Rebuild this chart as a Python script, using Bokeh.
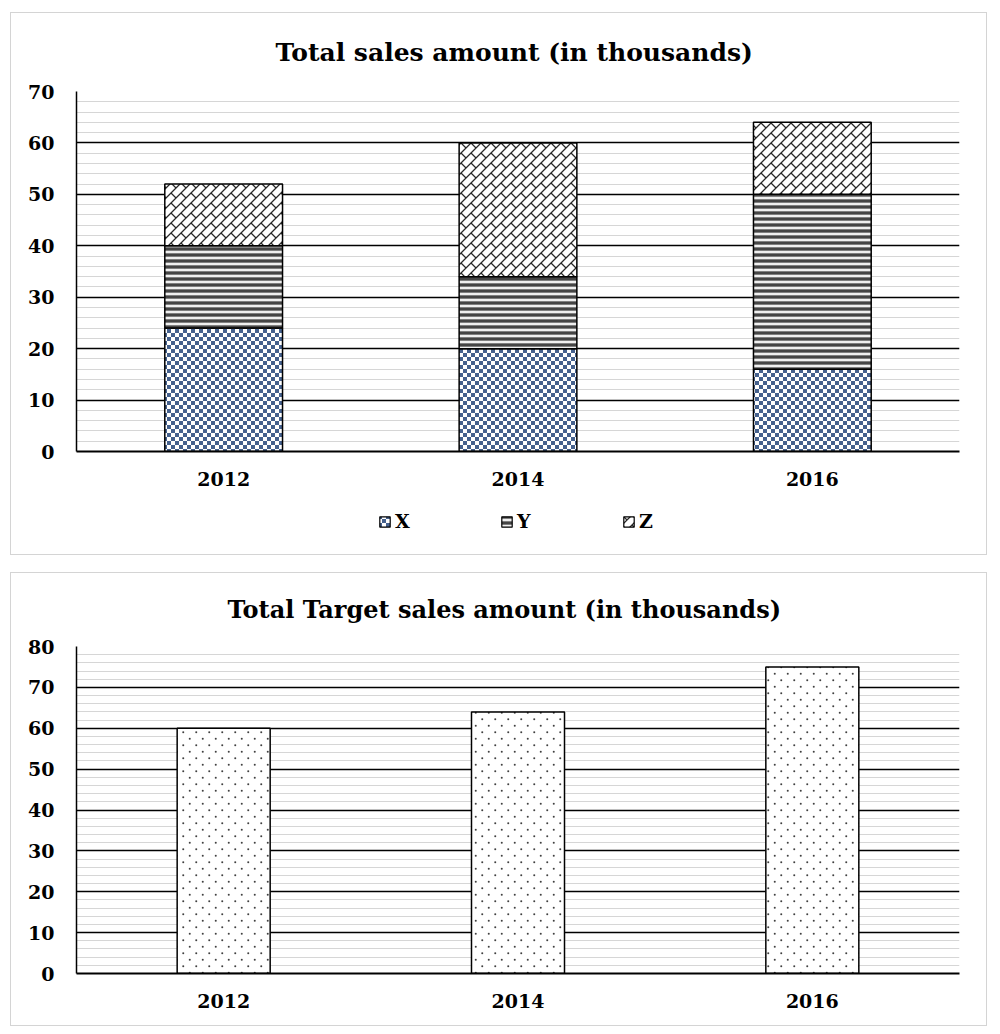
import base64, struct, zlib
import numpy as np
from bokeh.plotting import figure
from bokeh.models import (ColumnDataSource, FactorRange, Range1d, SingleIntervalTicker,
                          Legend, LegendItem, ImageURLTexture)
from bokeh.core.properties import value
from bokeh.layouts import column
from bokeh.embed import file_html
from bokeh.resources import INLINE

# ---------------- data ----------------
years = ["2012", "2014", "2016"]
sales_x = [24, 20, 16]
sales_y = [16, 14, 34]
sales_z = [12, 26, 14]
target = [60, 64, 75]
series_names = ["X", "Y", "Z"]
title_top = "Total sales amount (in thousands)"
title_bottom = "Total Target sales amount (in thousands)"

FONT = "DejaVu Serif"

# ---------------- pattern textures (PNG tiles) ----------------
def png_uri(img):
    img = np.clip(img, 0, 255).astype(np.uint8)
    h, w, _ = img.shape
    raw = b"".join(b"\x00" + img[r].tobytes() for r in range(h))
    def chunk(t, d):
        return struct.pack(">I", len(d)) + t + d + struct.pack(">I", zlib.crc32(t + d) & 0xffffffff)
    png = (b"\x89PNG\r\n\x1a\n" + chunk(b"IHDR", struct.pack(">IIBBBBB", w, h, 8, 2, 0, 0, 0))
           + chunk(b"IDAT", zlib.compress(raw)) + chunk(b"IEND", b""))
    return "data:image/png;base64," + base64.b64encode(png).decode()

def blend(cov, fg, bg=(255, 255, 255)):
    fg = np.array(fg, float); bg = np.array(bg, float)
    return bg[None, None, :] * (1 - cov[..., None]) + fg[None, None, :] * cov[..., None]

def checker_tile(s=4):
    n = 2 * s
    idx = np.arange(n) // s
    cov = ((idx[:, None] + idx[None, :]) % 2 == 0).astype(float)
    return blend(cov, (0x45, 0x61, 0x8e))

def hline_tile():
    vals = [0x80, 0x45, 0x45, 0x80, 0xf0, 0xf0]
    img = np.zeros((len(vals), 6, 3))
    for i, v in enumerate(vals):
        img[i, :, :] = v
    return img

def brick_tile(T=10, w=1.4, ss=6):
    n = T * ss
    c = (np.arange(n) + 0.5) / ss
    X, Y = np.meshgrid(c, c)
    u = X + Y
    v = X - Y
    um = u % T
    du = np.minimum(um, T - um) / np.sqrt(2)
    k = np.floor(u / T)
    vv = (v - k * T) % (2 * T)
    dv = np.minimum(vv, 2 * T - vv) / np.sqrt(2)
    ink = ((du < w / 2) | (dv < w / 2)).astype(float)
    cov = ink.reshape(T, ss, T, ss).mean(axis=(1, 3))
    return blend(cov, (0x28, 0x28, 0x28))

def dot_tile(W=13, r=1.0, ss=6):
    n = W * ss
    c = (np.arange(n) + 0.5) / ss
    X, Y = np.meshgrid(c, c)
    ink = np.zeros_like(X, dtype=bool)
    for (cx, cy) in [(W * 0.25, W * 0.25), (W * 0.75, W * 0.75)]:
        for ox in (-W, 0, W):
            for oy in (-W, 0, W):
                ink |= (X - cx - ox) ** 2 + (Y - cy - oy) ** 2 < r * r
    cov = ink.astype(float).reshape(W, ss, W, ss).mean(axis=(1, 3))
    return blend(cov, (0x40, 0x40, 0x40))

tex_checker = ImageURLTexture(url=png_uri(checker_tile()))
tex_hline = ImageURLTexture(url=png_uri(hline_tile()))
tex_brick = ImageURLTexture(url=png_uri(brick_tile()))
tex_dots = ImageURLTexture(url=png_uri(dot_tile()))

# ---------------- figure factory ----------------
def make_fig(title, ymax, fw, fh, mtop, mbottom, mleft, mright,
             title_size, title_offset, title_standoff):
    p = figure(x_range=FactorRange(factors=years, range_padding=0),
               y_range=Range1d(0, ymax),
               frame_width=fw, frame_height=fh,
               min_border_top=mtop, min_border_bottom=mbottom,
               min_border_left=mleft, min_border_right=mright,
               output_backend="svg", toolbar_location=None, tools="")
    p.title.text = title
    p.title.align = "left"
    p.title.vertical_align = "top"
    p.title.offset = title_offset
    p.title.text_font = FONT
    p.title.text_font_style = "bold"
    p.title.text_font_size = title_size
    p.title.text_color = "black"
    p.title.standoff = title_standoff
    p.outline_line_color = None
    p.background_fill_color = "white"
    p.border_fill_color = "white"

    ticker = SingleIntervalTicker(interval=10, num_minor_ticks=5)
    p.yaxis.ticker = ticker
    p.ygrid.ticker = ticker
    p.ygrid.grid_line_color = "black"
    p.ygrid.grid_line_width = 1.6
    p.ygrid.minor_grid_line_color = "#d6d6d6"
    p.ygrid.minor_grid_line_width = 1
    p.xgrid.grid_line_color = None

    for ax in (p.xaxis, p.yaxis):
        ax.major_tick_line_color = None
        ax.minor_tick_line_color = None
        ax.major_tick_out = 0
        ax.major_tick_in = 0
        ax.minor_tick_out = 0
        ax.major_label_text_font = FONT
        ax.major_label_text_font_style = "bold"
        ax.major_label_text_font_size = "19px"
        ax.major_label_text_color = "black"
        ax.axis_line_color = "black"
    p.yaxis.axis_line_width = 1.5
    p.xaxis.axis_line_width = 2
    p.yaxis.major_label_standoff = 22
    p.xaxis.major_label_standoff = 20
    return p

# ---------------- top chart ----------------
x_top = list(np.array(sales_x))
y_top = list(np.array(sales_x) + np.array(sales_y))
z_top = list(np.array(sales_x) + np.array(sales_y) + np.array(sales_z))
src = ColumnDataSource(dict(years=years, x_bot=[0] * 3, x_top=x_top,
                            y_bot=x_top, y_top=y_top, z_bot=y_top, z_top=z_top))

p1 = make_fig(title_top, 70, 883, 360, 78, 48, 65, 27, "25px", 199, 46)
common = dict(x="years", width=0.4, source=src, fill_color="white",
              line_color="black", line_width=1.5)
styles_xyz = [("checker", tex_checker), ("hl", tex_hline), ("brick", tex_brick)]
bottoms = ["x_bot", "y_bot", "z_bot"]
tops = ["x_top", "y_top", "z_top"]
for (key, tex), b, t in zip(styles_xyz, bottoms, tops):
    p1.vbar(bottom=b, top=t, hatch_pattern=value(key), hatch_extra={key: tex}, **common)

# ---------------- legend strip (part of the top panel) ----------------
# the same bars are drawn here only to feed the legend; the y range lies far above them so none show
pl = figure(width=975, height=55, x_range=FactorRange(factors=years, range_padding=0),
            y_range=Range1d(1000, 1001),
            min_border=0, x_axis_location=None, y_axis_location=None,
            output_backend="svg", toolbar_location=None, tools="")
pl.outline_line_color = None
pl.grid.visible = False
legend_items = []
for name, (key, tex), b, t in zip(series_names, styles_xyz, bottoms, tops):
    r = pl.vbar(x="years", bottom=b, top=t, width=0.4, source=src, fill_color="white",
                line_color="black", line_width=1.2,
                hatch_pattern=value(key), hatch_extra={key: tex})
    legend_items.append(LegendItem(label=name, renderers=[r]))
legend = Legend(items=legend_items, orientation="horizontal", location=(302, 22),
                glyph_width=13, glyph_height=13, label_standoff=4,
                label_width=15, spacing=90, padding=3, margin=0,
                border_line_color=None, background_fill_alpha=0,
                label_text_font=FONT, label_text_font_style="bold",
                label_text_font_size="19px", label_text_color="black")
pl.add_layout(legend, "center")

panel1 = column(p1, pl, spacing=0)
panel1.styles = {"border": "1px solid #d4d4d4"}

# ---------------- bottom chart ----------------
src2 = ColumnDataSource(dict(years=years, target=target))
p2 = make_fig(title_bottom, 80, 881, 325, 73, 54, 65, 29, "24px", 151, 42)
p2.vbar(x="years", bottom=0, top="target", width=0.316, source=src2,
        fill_color="white", line_color="black", line_width=1.5,
        hatch_pattern=value("dots"), hatch_extra={"dots": tex_dots})
p2.styles = {"border": "1px solid #d4d4d4"}

layout = column(panel1, p2, spacing=17, margin=(12, 0, 0, 10))

open("out.html", "w").write(file_html(layout, INLINE))
